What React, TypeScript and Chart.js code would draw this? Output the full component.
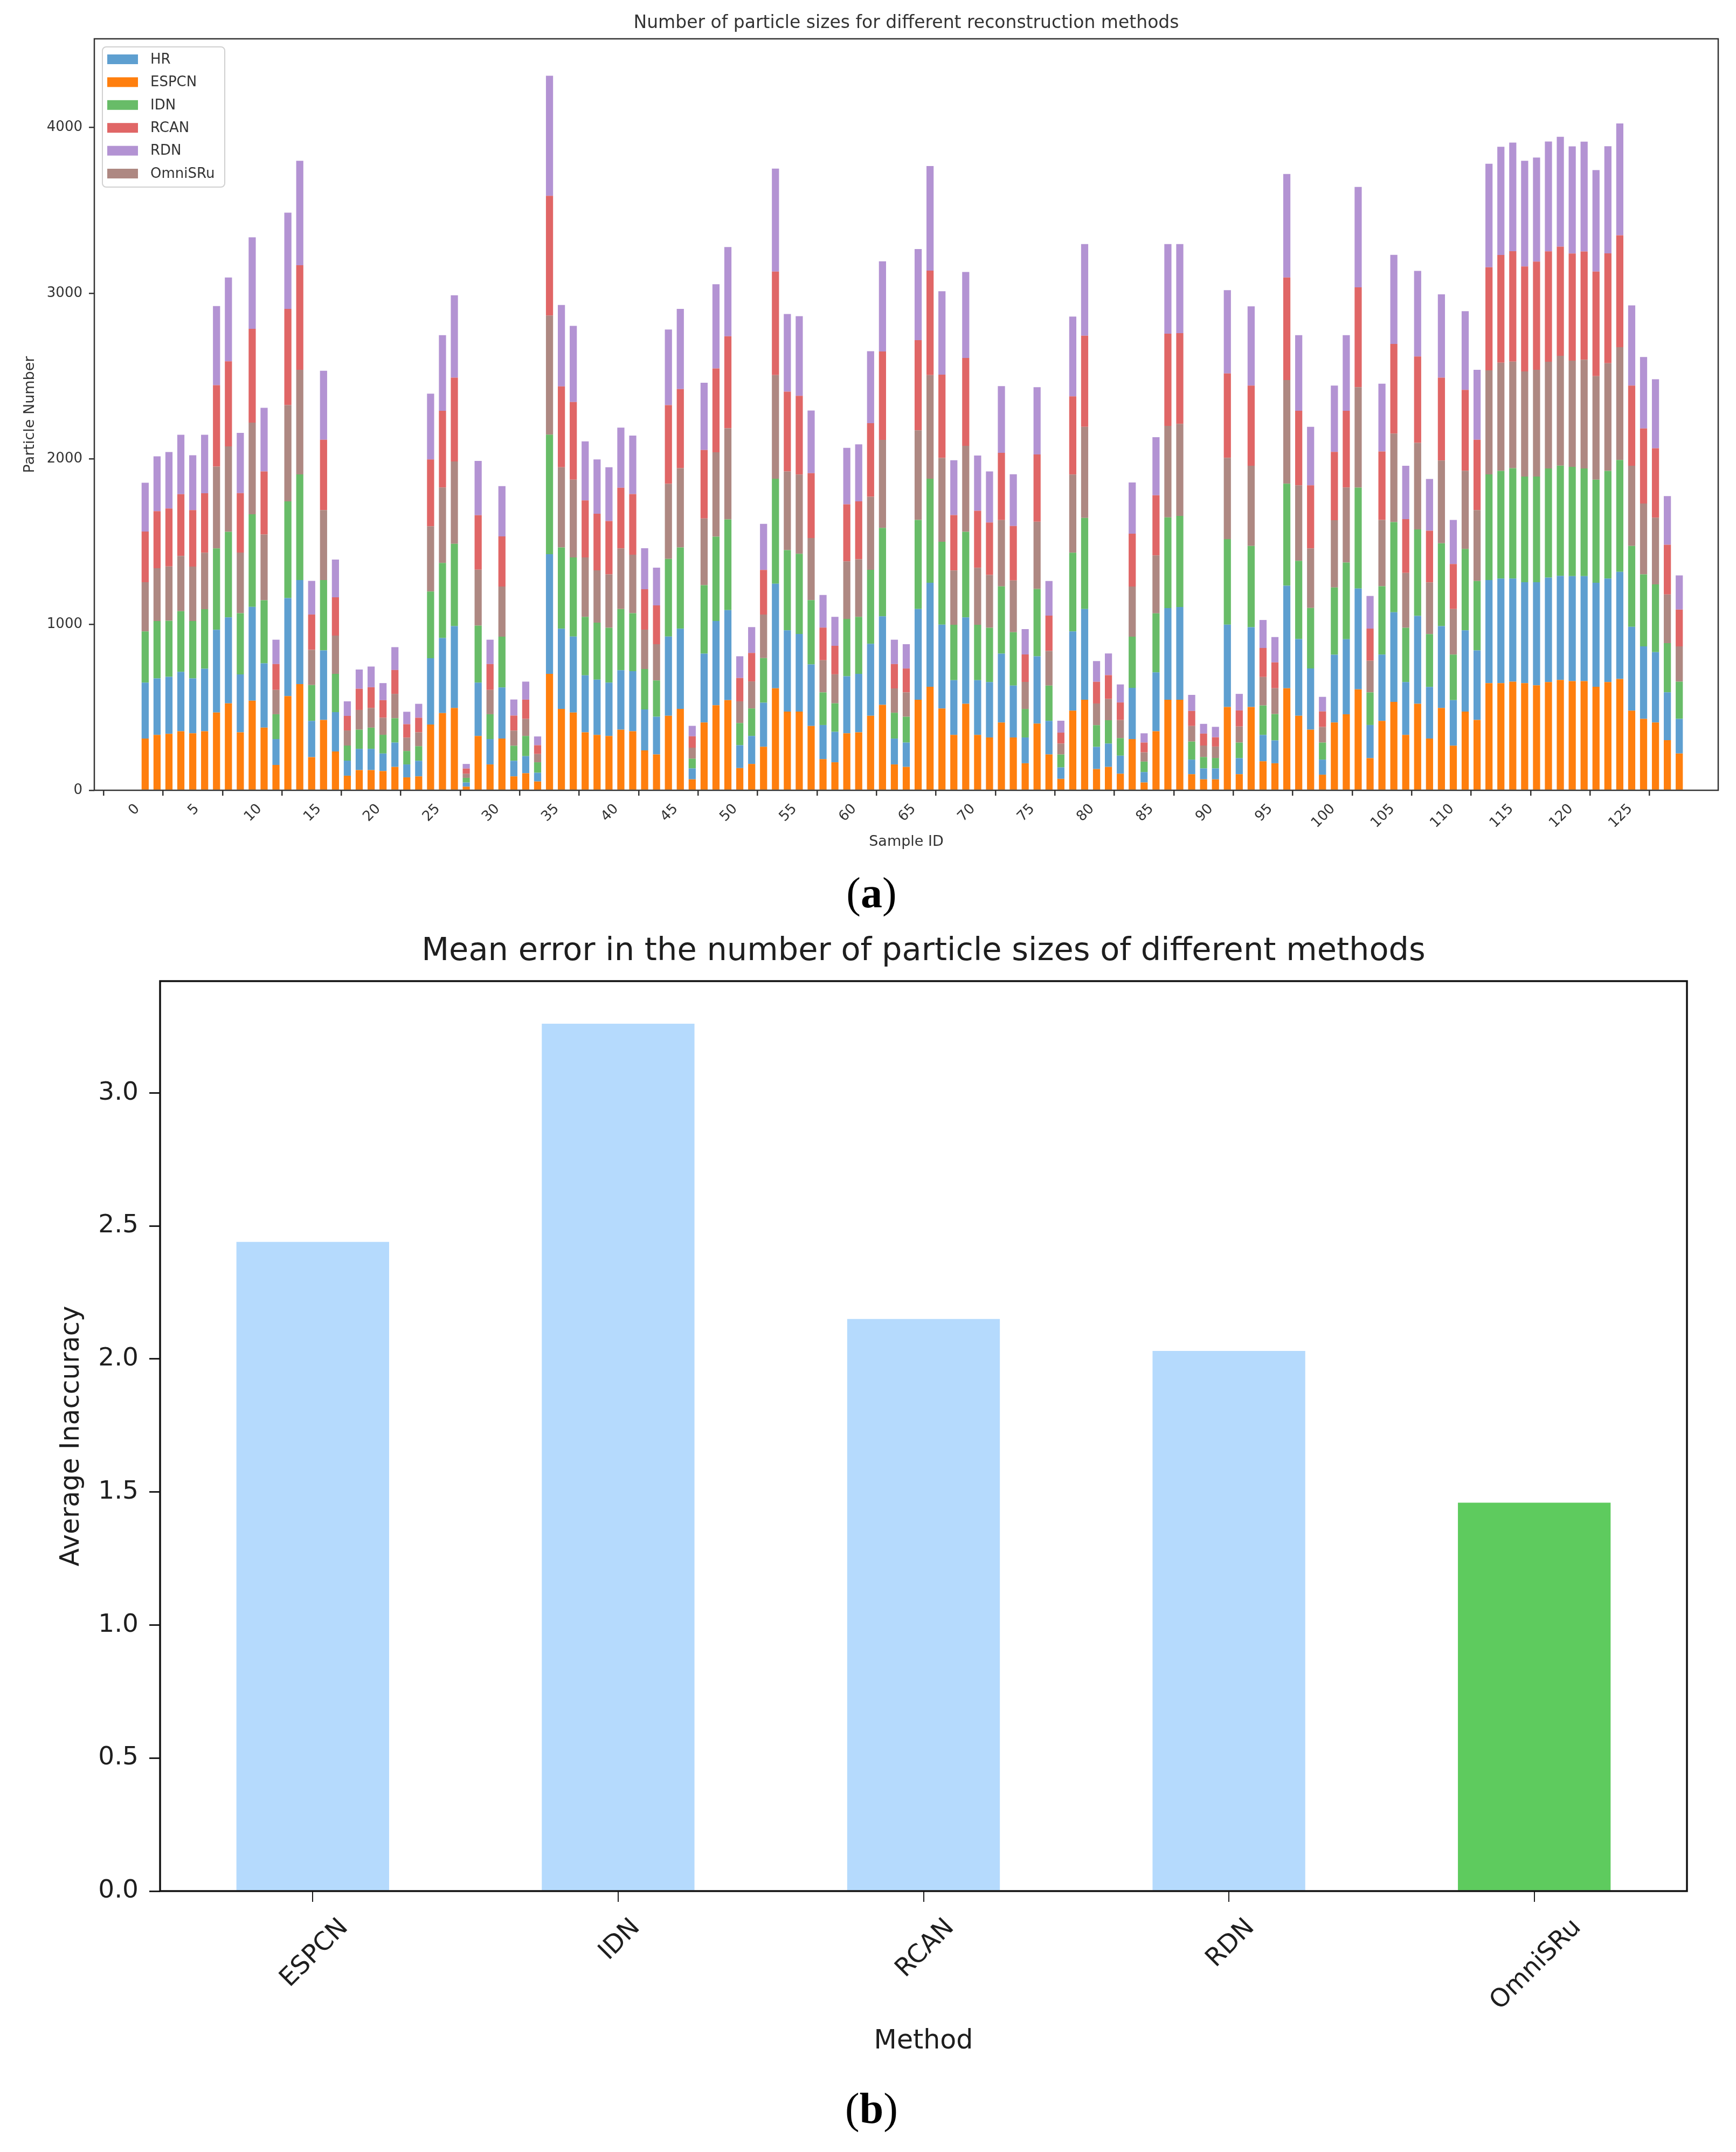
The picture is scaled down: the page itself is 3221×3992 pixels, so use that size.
import React, { useEffect, useRef } from 'react';
import { Chart, registerables } from 'chart.js';

Chart.register(...registerables);

const FONT = '"DejaVu Sans", sans-serif';

// ---------- Chart (a) data ----------
const sampleIds: number[] = Array.from({ length: 130 }, (_, i) => i + 1);
const xTickValuesA = [0, 5, 10, 15, 20, 25, 30, 35, 40, 45, 50, 55, 60, 65, 70, 75, 80, 85, 90, 95, 100, 105, 110, 115, 120, 125];
const yTickValuesA = [0, 1000, 2000, 3000, 4000];

const espcn = [
  312, 334, 341, 356, 344, 356, 469, 525, 350, 541,
  378, 153, 569, 641, 200, 425, 234, 88, 122, 122,
  116, 141, 78, 84, 397, 466, 497, 22, 328, 156,
  312, 84, 103, 53, 703, 491, 469, 350, 334, 328,
  366, 356, 241, 216, 450, 491, 66, 409, 513, 544,
  134, 159, 263, 616, 475, 475, 388, 188, 169, 344,
  350, 450, 516, 156, 141, 547, 625, 494, 334, 522,
  334, 319, 409, 319, 163, 403, 216, 69, 481, 547,
  128, 141, 100, 309, 47, 356, 547, 547, 97, 66,
  66, 503, 97, 503, 175, 163, 616, 450, 366, 94,
  409, 459, 609, 194, 419, 534, 334, 522, 312, 497,
  269, 475, 425, 647, 647, 656, 647, 634, 653, 666,
  659, 659, 625, 653, 672, 481, 431, 409, 303, 222,
];
const hr = [
  338, 341, 344, 359, 331, 378, 500, 519, 350, 566,
  388, 156, 591, 628, 219, 419, 238, 91, 128, 128,
  106, 147, 78, 94, 400, 453, 494, 25, 322, 153,
  309, 94, 103, 53, 722, 484, 459, 344, 334, 322,
  359, 363, 247, 228, 478, 484, 66, 416, 509, 544,
  138, 169, 266, 631, 491, 469, 372, 206, 184, 344,
  353, 434, 534, 156, 147, 547, 628, 506, 331, 522,
  331, 334, 416, 313, 156, 406, 203, 69, 478, 547,
  134, 141, 109, 309, 63, 356, 553, 559, 88, 66,
  66, 497, 97, 481, 159, 138, 619, 463, 369, 91,
  409, 453, 609, 200, 400, 541, 319, 531, 312, 494,
  275, 491, 419, 622, 631, 622, 609, 622, 631, 628,
  634, 634, 628, 625, 647, 506, 438, 425, 288, 209,
];
const idn = [
  309, 347, 338, 366, 347, 359, 491, 516, 369, 559,
  381, 150, 584, 638, 216, 425, 231, 91, 116, 128,
  113, 147, 81, 88, 403, 453, 497, 28, 344, 150,
  306, 91, 122, 63, 722, 491, 478, 353, 344, 331,
  369, 350, 244, 219, 469, 491, 59, 413, 509, 547,
  134, 166, 269, 634, 484, 484, 388, 197, 172, 347,
  344, 447, 534, 156, 156, 538, 628, 500, 334, 516,
  334, 328, 406, 322, 172, 406, 213, 78, 475, 550,
  131, 141, 106, 309, 63, 356, 547, 550, 109, 69,
  63, 516, 94, 491, 178, 159, 616, 472, 366, 103,
  406, 463, 609, 197, 413, 544, 328, 522, 319, 500,
  275, 491, 419, 638, 650, 666, 638, 638, 659, 666,
  659, 650, 622, 650, 675, 488, 434, 409, 297, 225,
];
const omnisru = [
  297, 319, 328, 334, 328, 341, 494, 516, 366, 553,
  397, 147, 581, 631, 213, 422, 231, 91, 119, 119,
  103, 147, 81, 84, 394, 456, 497, 25, 338, 147,
  303, 91, 103, 50, 719, 484, 469, 359, 316, 322,
  366, 353, 238, 219, 453, 478, 66, 403, 509, 550,
  131, 163, 263, 625, 475, 478, 375, 194, 175, 347,
  347, 441, 531, 147, 147, 541, 625, 506, 328, 519,
  344, 319, 400, 313, 163, 406, 209, 66, 472, 550,
  131, 128, 109, 303, 56, 350, 553, 556, 94, 69,
  69, 491, 97, 484, 172, 156, 625, 456, 359, 94,
  406, 453, 606, 191, 400, 534, 331, 522, 312, 500,
  275, 472, 428, 628, 653, 644, 634, 644, 644, 663,
  641, 656, 625, 650, 681, 484, 428, 403, 294, 213,
];
const rcan = [
  306, 344, 350, 372, 341, 359, 491, 513, 359, 566,
  381, 156, 581, 631, 213, 425, 231, 88, 128, 125,
  106, 144, 81, 88, 403, 463, 506, 31, 328, 156,
  303, 91, 116, 53, 722, 488, 469, 344, 341, 322,
  366, 366, 244, 234, 475, 478, 69, 413, 506, 556,
  141, 172, 269, 625, 481, 475, 391, 197, 172, 344,
  350, 444, 534, 147, 144, 544, 631, 503, 334, 531,
  344, 316, 406, 328, 166, 406, 213, 66, 472, 550,
  131, 144, 106, 319, 59, 363, 556, 547, 91, 72,
  56, 509, 97, 484, 175, 156, 619, 450, 381, 94,
  413, 463, 603, 194, 413, 541, 325, 522, 312, 500,
  272, 488, 425, 622, 650, 666, 634, 653, 666, 659,
  647, 653, 631, 663, 675, 484, 453, 419, 300, 222,
];
const rdn = [
  294, 331, 341, 359, 331, 353, 478, 506, 363, 553,
  384, 147, 581, 631, 203, 416, 228, 88, 116, 125,
  103, 138, 75, 84, 397, 456, 497, 28, 328, 147,
  303, 97, 109, 53, 725, 491, 459, 356, 328, 325,
  363, 353, 247, 228, 456, 484, 63, 406, 509, 538,
  131, 156, 278, 622, 469, 481, 378, 197, 175, 341,
  344, 434, 544, 147, 147, 550, 631, 503, 331, 519,
  334, 309, 403, 313, 153, 406, 209, 72, 481, 553,
  125, 131, 109, 309, 56, 350, 541, 538, 97, 59,
  63, 503, 100, 478, 169, 153, 625, 456, 353, 88,
  400, 456, 606, 197, 409, 538, 322, 516, 312, 503,
  266, 475, 422, 625, 653, 656, 638, 628, 663, 663,
  647, 663, 613, 647, 675, 484, 431, 416, 294, 206,
];

// stacking order bottom -> top
const stackSeries = [
  { label: 'ESPCN', data: espcn, color: '#ff7f0e' },
  { label: 'HR', data: hr, color: '#5e9fd0' },
  { label: 'IDN', data: idn, color: '#68bc68' },
  { label: 'OmniSRu', data: omnisru, color: '#ae8882' },
  { label: 'RCAN', data: rcan, color: '#e06666' },
  { label: 'RDN', data: rdn, color: '#b393d3' },
];
const legendOrder = ['HR', 'ESPCN', 'IDN', 'RCAN', 'RDN', 'OmniSRu'];

// ---------- Chart (b) data ----------
const methods = ['ESPCN', 'IDN', 'RCAN', 'RDN', 'OmniSRu'];
const meanError = [2.44, 3.26, 2.15, 2.03, 1.46];
const barColorsB = ['#b5dafd', '#b5dafd', '#b5dafd', '#b5dafd', '#5ecb5e'];
const yTickValuesB = [0, 0.5, 1.0, 1.5, 2.0, 2.5, 3.0];

// ---------- plugins ----------
const framePlugin = (id: string, lw: number, color: string) => ({
  id,
  afterDraw(chart: any) {
    const { ctx, chartArea } = chart;
    ctx.save();
    ctx.strokeStyle = color;
    ctx.lineWidth = lw;
    ctx.strokeRect(chartArea.left, chartArea.top, chartArea.right - chartArea.left, chartArea.bottom - chartArea.top);
    ctx.restore();
  },
});

const titlePlugin = (id: string, text: string, size: number, color: string, cy: number) => ({
  id,
  afterDraw(chart: any) {
    const { ctx, chartArea } = chart;
    ctx.save();
    ctx.font = `${size}px ${FONT}`;
    ctx.fillStyle = color;
    ctx.textAlign = 'center';
    ctx.textBaseline = 'middle';
    ctx.fillText(text, (chartArea.left + chartArea.right) / 2, cy);
    ctx.restore();
  },
});

const rotatedLabelsPlugin = (id: string, size: number, color: string, tickLen: number, pad: number) => ({
  id,
  afterDraw(chart: any) {
    const scale = chart.scales.x;
    const { ctx, chartArea } = chart;
    ctx.save();
    ctx.font = `${size}px ${FONT}`;
    ctx.fillStyle = color;
    ctx.textAlign = 'center';
    ctx.textBaseline = 'alphabetic';
    const top = chartArea.bottom + tickLen + pad;
    scale.ticks.forEach((t: any, i: number) => {
      const label = String(t.label);
      const x = scale.getPixelForTick(i);
      const w = ctx.measureText(label).width;
      const h = size * 0.73;
      const half = ((w + h) * Math.SQRT1_2) / 2;
      ctx.save();
      ctx.translate(x, top + half);
      ctx.rotate(-Math.PI / 4);
      ctx.fillText(label, 0, size * 0.365);
      ctx.restore();
    });
    ctx.restore();
  },
});

const legendPlugin = {
  id: 'insideLegend',
  afterDatasetsDraw(chart: any) {
    const { ctx, chartArea } = chart;
    const x0 = chartArea.left + 15;
    const y0 = chartArea.top + 15;
    ctx.save();
    ctx.beginPath();
    ctx.roundRect(x0, y0, 227, 260, 7);
    ctx.fillStyle = 'rgba(255,255,255,0.85)';
    ctx.fill();
    ctx.strokeStyle = '#d0d0d0';
    ctx.lineWidth = 2;
    ctx.stroke();
    ctx.font = `26px ${FONT}`;
    ctx.textAlign = 'left';
    ctx.textBaseline = 'middle';
    legendOrder.forEach((name, i) => {
      const s = stackSeries.find((q) => q.label === name)!;
      const cy = chartArea.top + 38 + i * 42.4;
      ctx.fillStyle = s.color;
      ctx.fillRect(chartArea.left + 24, cy - 9, 57, 18);
      ctx.fillStyle = '#333333';
      ctx.fillText(name, chartArea.left + 104, cy + 1);
    });
    ctx.restore();
  },
};

// ---------- configs ----------
const AX_A = '#333333';
const AX_B = '#1e1e1e';

const makeConfigA = (): any => ({
  type: 'bar',
  data: {
    datasets: stackSeries.map((s) => ({
      label: s.label,
      data: sampleIds.map((id, i) => ({ x: id, y: s.data[i] })),
      backgroundColor: s.color,
      borderWidth: 0,
      barPercentage: 0.6,
      categoryPercentage: 1,
    })),
  },
  options: {
    responsive: false,
    animation: false,
    devicePixelRatio: 1,
    layout: { padding: { top: 72, right: 33, bottom: 10, left: 0 } },
    plugins: { legend: { display: false }, title: { display: false }, tooltip: { enabled: false } },
    scales: {
      x: {
        type: 'linear',
        stacked: true,
        min: -0.65,
        max: 130.65,
        afterBuildTicks: (scale: any) => {
          scale.ticks = xTickValuesA.map((v) => ({ value: v }));
        },
        afterFit: (scale: any) => {
          scale.height = 124;
        },
        grid: { display: true, drawOnChartArea: false, drawTicks: true, tickLength: 10, color: AX_A, lineWidth: 2.5 },
        border: { display: false },
        ticks: {
          color: 'rgba(0,0,0,0)',
          font: { size: 26, family: FONT },
          maxRotation: 45,
          minRotation: 45,
          autoSkip: false,
          callback: (v: any) => String(v),
        },
        title: {
          display: true,
          text: 'Sample ID',
          color: AX_A,
          font: { size: 27, family: FONT },
          padding: { top: 0, bottom: 12 },
        },
      },
      y: {
        stacked: true,
        min: 0,
        max: 4536,
        afterBuildTicks: (scale: any) => {
          scale.ticks = yTickValuesA.map((v) => ({ value: v }));
        },
        afterFit: (scale: any) => {
          scale.width = 175;
        },
        grid: { display: true, drawOnChartArea: false, drawTicks: true, tickLength: 10, color: AX_A, lineWidth: 2.5 },
        border: { display: false },
        ticks: { color: AX_A, font: { size: 26, family: FONT }, padding: 12, callback: (v: any) => String(v) },
        title: {
          display: true,
          text: 'Particle Number',
          color: AX_A,
          font: { size: 27, family: FONT },
          padding: { top: 40, bottom: 0 },
        },
      },
    },
  },
  plugins: [
    legendPlugin,
    framePlugin('frameA', 2.5, AX_A),
    titlePlugin('titleA', 'Number of particle sizes for different reconstruction methods', 33, AX_A, 43),
    rotatedLabelsPlugin('xlabA', 26, AX_A, 10, 12),
  ],
});

const makeConfigB = (): any => ({
  type: 'bar',
  data: {
    labels: methods,
    datasets: [
      {
        label: 'Average Inaccuracy',
        data: meanError,
        backgroundColor: barColorsB,
        borderWidth: 0,
        barPercentage: 0.5,
        categoryPercentage: 1,
      },
    ],
  },
  options: {
    responsive: false,
    animation: false,
    devicePixelRatio: 1,
    layout: { padding: { top: 100, right: 91, bottom: 20, left: 0 } },
    plugins: { legend: { display: false }, title: { display: false }, tooltip: { enabled: false } },
    scales: {
      x: {
        offset: true,
        afterFit: (scale: any) => {
          scale.height = 322;
        },
        grid: { display: true, offset: false, drawOnChartArea: false, drawTicks: true, tickLength: 20, color: AX_B, lineWidth: 2 },
        border: { display: false },
        ticks: {
          color: 'rgba(0,0,0,0)',
          font: { size: 47, family: FONT },
          maxRotation: 45,
          minRotation: 45,
          autoSkip: false,
        },
        title: {
          display: true,
          text: 'Method',
          color: AX_B,
          font: { size: 49, family: FONT },
          padding: { top: 0, bottom: 13.6 },
        },
      },
      y: {
        min: 0,
        max: 3.42,
        afterBuildTicks: (scale: any) => {
          scale.ticks = yTickValuesB.map((v) => ({ value: v }));
        },
        afterFit: (scale: any) => {
          scale.width = 297;
        },
        grid: { display: true, drawOnChartArea: false, drawTicks: true, tickLength: 20, color: AX_B, lineWidth: 3 },
        border: { display: false },
        ticks: {
          color: AX_B,
          font: { size: 47, family: FONT },
          padding: 20,
          callback: (v: any) => Number(v).toFixed(1),
        },
        title: {
          display: true,
          text: 'Average Inaccuracy',
          color: AX_B,
          font: { size: 49, family: FONT },
          padding: { top: 103.6, bottom: 0 },
        },
      },
    },
  },
  plugins: [
    framePlugin('frameB', 3.5, '#111111'),
    titlePlugin('titleB', 'Mean error in the number of particle sizes of different methods', 59, AX_B, 46),
    rotatedLabelsPlugin('xlabB', 47, AX_B, 20, 25),
  ],
});

function ChartCanvas({ makeConfig, width, height, top }: { makeConfig: () => any; width: number; height: number; top: number }) {
  const ref = useRef<HTMLCanvasElement | null>(null);
  useEffect(() => {
    if (!ref.current) return;
    const chart = new Chart(ref.current, makeConfig());
    return () => chart.destroy();
  }, [makeConfig]);
  return (
    <canvas
      ref={ref}
      width={width}
      height={height}
      style={{ position: 'absolute', left: 0, top, width, height, display: 'block' }}
    />
  );
}

const panelLabelStyle = (top: number): React.CSSProperties => ({
  position: 'absolute',
  left: 1417,
  width: 400,
  top,
  height: 100,
  lineHeight: '100px',
  textAlign: 'center',
  fontFamily: '"Liberation Serif", "Times New Roman", serif',
  fontSize: 80,
  color: '#000',
});

export default function App() {
  return (
    <div
      style={{
        position: 'absolute',
        left: 0,
        top: 0,
        width: 3221,
        height: 3992,
        background: '#ffffff',
        overflow: 'hidden',
      }}
    >
      <ChartCanvas makeConfig={makeConfigA} width={3221} height={1600} top={0} />
      <div style={panelLabelStyle(1606)}>
        (<b>a</b>)
      </div>
      <ChartCanvas makeConfig={makeConfigB} width={3221} height={2130} top={1720} />
      <div style={panelLabelStyle(3861)}>
        (<b>b</b>)
      </div>
    </div>
  );
}
